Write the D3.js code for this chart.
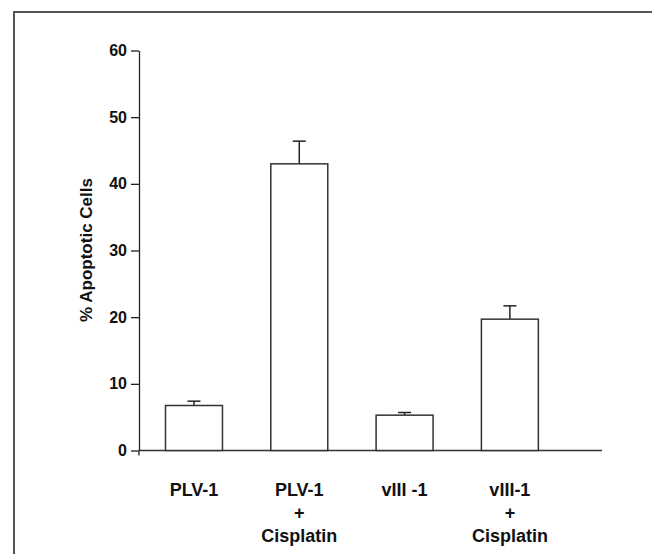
<!DOCTYPE html>
<html>
<head>
<meta charset="utf-8">
<script src="https://cdn.jsdelivr.net/npm/d3@7"></script>
<style>
  body { margin: 0; background: #fff; }
  text { font-family: "Liberation Sans", Arial, sans-serif; font-weight: bold; fill: #111; }
</style>
</head>
<body>
<script>
// chart values
var categories = ["PLV-1", "PLV-1 + Cisplatin", "vIII -1", "vIII-1 + Cisplatin"];
var labelLines = [["PLV-1"], ["PLV-1", "+", "Cisplatin"], ["vIII -1"], ["vIII-1", "+", "Cisplatin"]];
var means = [6.75, 43.0, 5.3, 19.7];
var errTops = [7.4, 46.4, 5.7, 21.7];
var yTicks = [0, 10, 20, 30, 40, 50, 60];

function draw_chart() {
    var svg = d3.select("body").append("svg").attr("width", 652).attr("height", 554);

    // frame (top and left edges only)
    svg.append("path")
        .attr("d", "M14,554V12H652")
        .attr("fill", "none")
        .attr("stroke", "#555")
        .attr("stroke-width", 2);

    var x = d3.scaleBand()
        .domain(categories)
        .range([139, 602])
        .paddingInner(0.459)
        .paddingOuter(0.428)
        .align(0.294);

    var y = d3.scaleLinear().domain([0, 60]).range([450.5, 50.5]);

    var data = categories.map(function (c, i) {
        return {cat: c, mean: means[i], err: errTops[i], lines: labelLines[i]};
    });

    // y axis
    var yAxis = svg.append("g")
        .attr("transform", "translate(139,0)")
        .call(d3.axisLeft(y).tickValues(yTicks).tickSize(8).tickSizeOuter(0).tickPadding(4));
    yAxis.select(".domain").attr("stroke", "#222").attr("stroke-width", 1.3);
    yAxis.selectAll(".tick line").attr("stroke", "#222").attr("stroke-width", 1.3);
    yAxis.selectAll(".tick text")
        .attr("font-size", 16)
        .attr("font-family", "Liberation Sans, Arial, sans-serif")
        .attr("font-weight", "bold")
        .attr("fill", "#111");

    // small overhang of the y axis below zero
    svg.append("line")
        .attr("x1", 139).attr("x2", 139)
        .attr("y1", y(0)).attr("y2", y(0) + 5)
        .attr("stroke", "#222").attr("stroke-width", 1.3);

    // x axis line
    svg.append("line")
        .attr("x1", 139).attr("x2", 602)
        .attr("y1", y(0)).attr("y2", y(0))
        .attr("stroke", "#333").attr("stroke-width", 1.5);

    var groups = svg.selectAll(".gr")
        .data(data)
        .enter().append("g")
        .attr("class", "gr");

    // error bars
    groups.append("line")
        .attr("x1", function (d) { return x(d.cat) + x.bandwidth() / 2; })
        .attr("x2", function (d) { return x(d.cat) + x.bandwidth() / 2; })
        .attr("y1", function (d) { return y(d.mean); })
        .attr("y2", function (d) { return y(d.err); })
        .attr("stroke", "#222").attr("stroke-width", 1.5);
    groups.append("line")
        .attr("x1", function (d) { return x(d.cat) + x.bandwidth() / 2 - 6.5; })
        .attr("x2", function (d) { return x(d.cat) + x.bandwidth() / 2 + 6.5; })
        .attr("y1", function (d) { return y(d.err); })
        .attr("y2", function (d) { return y(d.err); })
        .attr("stroke", "#222").attr("stroke-width", 1.5);

    groups.append("rect")
        .attr("x", function (d) { return x(d.cat); })
        .attr("y", function (d) { return y(d.mean); })
        .attr("width", x.bandwidth())
        .attr("height", function (d) { return y(0) - y(d.mean); })
        .attr("fill", "#fff")
        .attr("stroke", "#333")
        .attr("stroke-width", 1.5);

    // category labels
    var lbl = groups.append("text")
        .attr("text-anchor", "middle")
        .attr("font-size", 18)
        .attr("transform", function (d) {
            return "translate(" + (x(d.cat) + x.bandwidth() / 2) + ",496)";
        });
    lbl.selectAll("tspan")
        .data(function (d) { return d.lines; })
        .enter().append("tspan")
        .attr("x", 0)
        .attr("y", function (d, i) { return i * 23; })
        .text(function (d) { return d; });

    // y axis title
    svg.append("text")
        .attr("transform", "translate(86,250) rotate(-90)")
        .attr("text-anchor", "middle")
        .attr("dy", "0.35em")
        .attr("font-size", 17)
        .text("% Apoptotic Cells");
}

draw_chart();
</script>
</body>
</html>
